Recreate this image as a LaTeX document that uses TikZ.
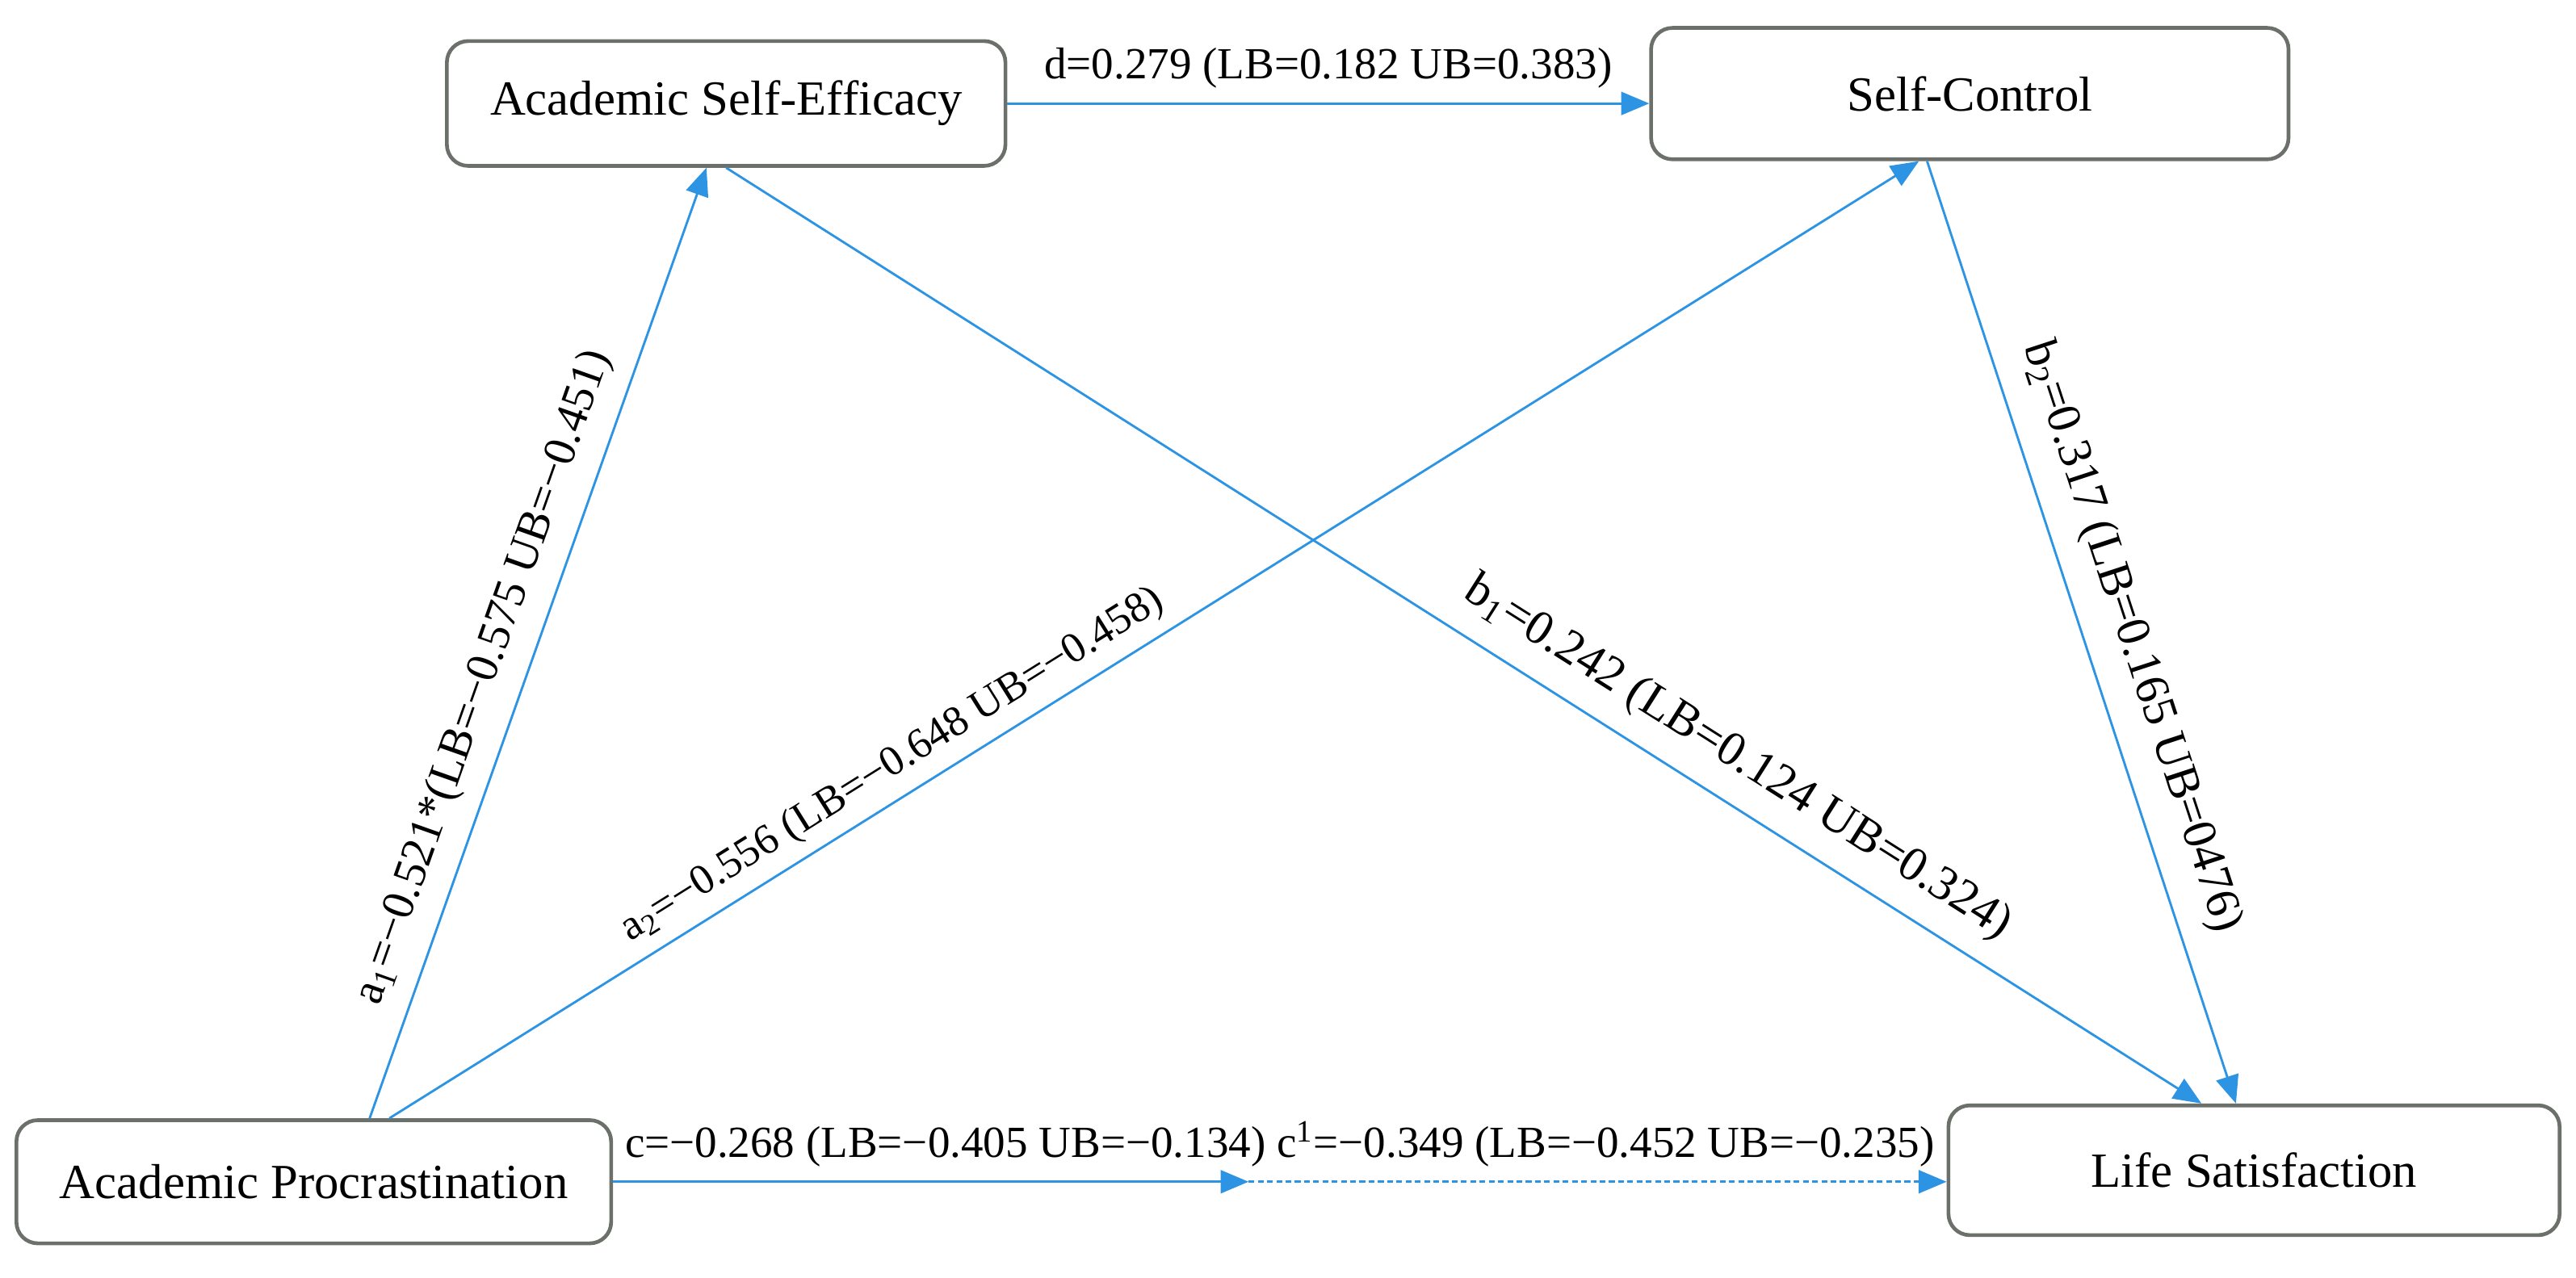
\documentclass[tikz,border=0pt]{standalone}
\usepackage{fontspec}
\setmainfont{Liberation Serif}
\usetikzlibrary{arrows.meta,positioning,calc}
\definecolor{pathblue}{RGB}{45,148,228}
\definecolor{boxgray}{RGB}{108,112,106}

\begin{document}
\begin{tikzpicture}[
    box/.style={rectangle, draw=boxgray, line width=1.3pt, rounded corners=2.6mm, fill=white, align=center, inner sep=0pt, font=\fontsize{17}{20}\selectfont},
    arrow/.style={-{Triangle[length=3.4mm,width=2.8mm]}, pathblue, line width=0.8pt},
    lbl/.style={text=black, inner sep=2pt, font=\fontsize{15.4}{18}\selectfont},
    slbl/.style={sloped, above, text=black, inner sep=7pt, font=\fontsize{16}{19}\selectfont}
]
\useasboundingbox (0,0) rectangle (31.36,15.56);

% variables
\node[box, minimum width=6.8cm,  minimum height=1.52cm] (ase) at (8.84,14.3)  {Academic Self-Efficacy};
\node[box, minimum width=7.76cm, minimum height=1.6cm]  (sc)  at (23.98,14.42) {Self-Control};
\node[box, minimum width=7.24cm, minimum height=1.5cm]  (ap)  at (3.82,1.17)  {Academic Procrastination};
\node[box, minimum width=7.44cm, minimum height=1.58cm] (ls)  at (27.44,1.31) {Life Satisfaction};
\coordinate (cmid) at (15.2,1.17);

% paths
\draw[arrow] (ase.east) -- node[lbl, above=3pt] {d=0.279 (LB=0.182 UB=0.383)} (sc.west |- ase.east);
\draw[arrow] ([xshift=0.68cm]ap.north) -- node[slbl, pos=0.45, inner sep=6pt, font=\fontsize{15.9}{19}\selectfont] {a\textsubscript{1}=−0.521*(LB=−0.575 UB=−0.451)} ([xshift=-0.24cm]ase.south);
\draw[arrow] ([xshift=0.92cm]ap.north) -- node[slbl, pos=0.34, inner sep=4pt, font=\fontsize{14.8}{18}\selectfont] {a\textsubscript{2}=−0.556 (LB=−0.648 UB=−0.458)} ([xshift=-0.62cm]sc.south);
\draw[arrow] (ase.south) -- node[slbl, pos=0.67, inner sep=7pt, font=\fontsize{16.8}{20}\selectfont] {b\textsubscript{1}=0.242 (LB=0.124 UB=0.324)} ([xshift=-0.64cm]ls.north);
\draw[arrow] ([xshift=-0.52cm]sc.south) -- node[slbl, pos=0.52, inner sep=8pt, font=\fontsize{16.6}{20}\selectfont] {b\textsubscript{2}=0.317 (LB=0.165 UB=0476)} ([xshift=-0.22cm]ls.north);
\draw[arrow] (ap.east) -- (cmid);
\draw[arrow, dash pattern=on 2pt off 1.2pt] (cmid) -- (ls.west |- cmid);
\node[lbl, above=3pt] (clab) at ($(ap.east)!0.5!(ls.west |- cmid)$) {c=−0.268 (LB=−0.405 UB=−0.134) c\textsuperscript{1}=−0.349 (LB=−0.452 UB=−0.235)};
\end{tikzpicture}
\end{document}
